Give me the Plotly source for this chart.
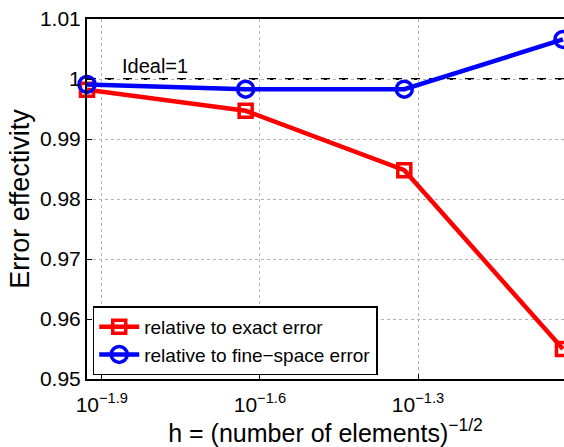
import math
import plotly.graph_objects as go

h_values = [0.0118, 0.0236, 0.0472, 0.0944]
exact_effectivity = [0.9982, 0.9947, 0.9848, 0.9550]
fine_effectivity = [0.9991, 0.9983, 0.9983, 1.0066]
ideal_value = 1.0
x_tick_exponents = [-1.9, -1.6, -1.3]
y_ticks = [0.95, 0.96, 0.97, 0.98, 0.99, 1.0, 1.01]
y_tick_labels = ["0.95", "0.96", "0.97", "0.98", "0.99", "1", "1.01"]

FONT = "Liberation Sans, Arial, Helvetica, sans-serif"

fig = go.Figure()
fig.add_trace(go.Scatter(
    x=h_values, y=exact_effectivity, mode="lines+markers",
    name="relative to exact error",
    line=dict(color="#ff0000", width=4.5),
    marker=dict(symbol="square-open", size=13, color="#ff0000", line=dict(width=3.5, color="#ff0000")),
    cliponaxis=False,
))
fig.add_trace(go.Scatter(
    x=h_values, y=fine_effectivity, mode="lines+markers",
    name="relative to fine\u2212space error",
    line=dict(color="#0000ff", width=4.5),
    marker=dict(symbol="circle-open", size=16, color="#0000ff", line=dict(width=3.5, color="#0000ff")),
    cliponaxis=False,
))

fig.add_shape(type="line", xref="paper", x0=0, x1=1, yref="y", y0=ideal_value, y1=ideal_value,
              line=dict(color="black", width=2, dash="dash"), layer="below")
fig.add_annotation(x=-1.800, y=ideal_value, xref="x", yref="y", text="Ideal=1",
                   showarrow=False, yanchor="bottom", yshift=0,
                   font=dict(family=FONT, size=20, color="black"))

lo = math.log10(h_values[0])
hi = math.log10(h_values[-1])

fig.update_xaxes(
    type="log", range=[lo, hi + 0.002],
    tickvals=[10 ** e for e in x_tick_exponents],
    ticktext=["10<sup>\u2212%s</sup>" % str(abs(e)) for e in x_tick_exponents],
    ticks="inside", ticklen=5, tickcolor="black",
    ticklabelstandoff=6,
    showline=True, linecolor="black", linewidth=2, mirror=True,
    showgrid=True, gridcolor="#b4b4b4", griddash="dot", gridwidth=1,
    zeroline=False,
    title=dict(text="h = (number of elements)<sup>\u22121/2</sup>", font=dict(family=FONT, size=25), standoff=2),
    tickfont=dict(family=FONT, size=21, color="black"),
)
fig.update_yaxes(
    range=[0.95, 1.01],
    tickvals=y_ticks, ticktext=y_tick_labels,
    ticks="inside", ticklen=5, tickcolor="black",
    showline=True, linecolor="black", linewidth=2, mirror=False,
    showgrid=True, gridcolor="#b4b4b4", griddash="dot", gridwidth=1,
    zeroline=False,
    title=dict(text="Error effectivity", font=dict(family=FONT, size=27), standoff=2),
    tickfont=dict(family=FONT, size=21, color="black"),
)

fig.update_layout(
    width=564, height=447,
    margin=dict(l=87, r=0, t=19, b=68),
    paper_bgcolor="white", plot_bgcolor="white",
    font=dict(family=FONT, color="black"),
    showlegend=True,
    legend=dict(x=0.012, y=0.01, xanchor="left", yanchor="bottom",
                bgcolor="white", bordercolor="black", borderwidth=1.5,
                font=dict(family=FONT, size=19, color="black"),
                tracegroupgap=0, itemwidth=40),
)

fig.write_html(
    "out.html",
    config={"displayModeBar": False},
    post_script="document.body.style.margin='0';document.body.style.overflow='hidden';",
)
